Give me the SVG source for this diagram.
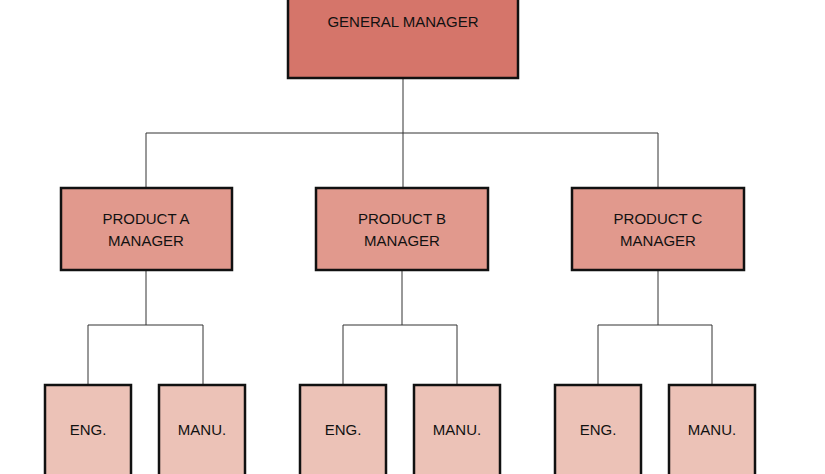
<svg xmlns="http://www.w3.org/2000/svg" width="825" height="474" viewBox="0 0 825 474">
<style>
.box{stroke:#111;stroke-width:2.5}
.gm{fill:#d5756a}
.pm{fill:#e1998d}
.sub{fill:#ecc2b7}
text{font-family:"Liberation Sans",Arial,sans-serif;font-size:15px;fill:#111;text-anchor:middle}
.c{fill:none;stroke:#333;stroke-width:1}
</style>
<rect width="825" height="474" fill="#fff"/>
<g id="connectors">
<path class="c" d="M403 78V133M146 133H658M146 133V188M403 133V188M658 133V188"/>
<path class="c" d="M146 270V325M88 325H203M88 325V384M203 325V384"/>
<path class="c" d="M402 270V325M343 325H457M343 325V384M457 325V384"/>
<path class="c" d="M658 270V325M598 325H712M598 325V384M712 325V384"/>
</g>
<g id="gm"><rect class="box gm" x="288" y="-4" width="230" height="82"/><text x="403" y="27">GENERAL MANAGER</text></g>
<g id="pa"><rect class="box pm" x="61" y="188" width="171" height="82"/><text x="146" y="224">PRODUCT A</text><text x="146" y="246">MANAGER</text></g>
<g id="pb"><rect class="box pm" x="316" y="188" width="172" height="82"/><text x="402" y="224">PRODUCT B</text><text x="402" y="246">MANAGER</text></g>
<g id="pc"><rect class="box pm" x="572" y="188" width="172" height="82"/><text x="658" y="224">PRODUCT C</text><text x="658" y="246">MANAGER</text></g>
<g id="ea"><rect class="box sub" x="45" y="385" width="86" height="95"/><text x="88" y="435">ENG.</text></g>
<g id="ma"><rect class="box sub" x="159" y="385" width="86" height="95"/><text x="202" y="435">MANU.</text></g>
<g id="eb"><rect class="box sub" x="300" y="385" width="86" height="95"/><text x="343" y="435">ENG.</text></g>
<g id="mb"><rect class="box sub" x="414" y="385" width="86" height="95"/><text x="457" y="435">MANU.</text></g>
<g id="ec"><rect class="box sub" x="555" y="385" width="86" height="95"/><text x="598" y="435">ENG.</text></g>
<g id="mc"><rect class="box sub" x="669" y="385" width="86" height="95"/><text x="712" y="435">MANU.</text></g>
</svg>
